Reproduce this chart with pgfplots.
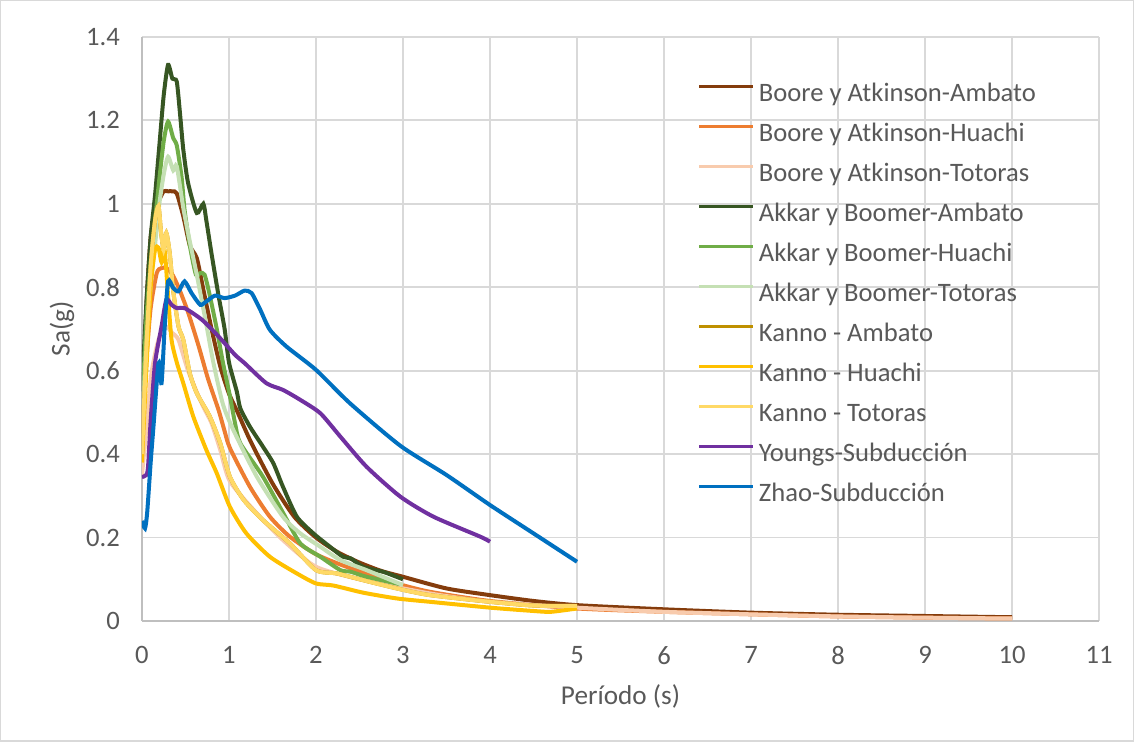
\documentclass[border=0pt]{standalone}
\usepackage{pgfplots}
\pgfplotsset{compat=1.18}
\usepackage{fontspec}
\setmainfont{Carlito}

\definecolor{txt}{HTML}{595959}
\definecolor{gridc}{HTML}{D9D9D9}
\definecolor{axc}{HTML}{BFBFBF}
\definecolor{baA}{HTML}{843C0C}
\definecolor{baH}{HTML}{ED7D31}
\definecolor{baT}{HTML}{F8CBAD}
\definecolor{abA}{HTML}{375623}
\definecolor{abH}{HTML}{70AD47}
\definecolor{abT}{HTML}{C5E0B4}
\definecolor{kaA}{HTML}{BF9000}
\definecolor{kaH}{HTML}{FFC000}
\definecolor{kaT}{HTML}{FFD966}
\definecolor{yoS}{HTML}{7030A0}
\definecolor{zhS}{HTML}{0070C0}

\begin{document}
\begin{tikzpicture}
% whole chart area, 1 px = 0.5pt
\draw[gridc, line width=0.75pt] (0.4pt,0.4pt) rectangle (566.6pt,370.6pt);

\begin{axis}[
    at={(71pt,60.5pt)}, anchor=south west,
    scale only axis,
    width=478.5pt, height=292pt,
    xmin=0, xmax=11, ymin=0, ymax=1.4,
    xtick={0,1,...,11},
    ytick={0,0.2,...,1.4},
    grid=major,
    major grid style={gridc, line width=0.9pt},
    axis x line*=bottom, axis y line*=left,
    axis line style={axc, line width=0.9pt},
    major tick length=0pt,
    /pgf/number format/assume math mode=true,
    /pgf/number format/fixed,
    ticklabel style={font=\fontsize{13.3}{15}\selectfont, text=txt},
    xticklabel style={yshift=-9pt},
    yticklabel style={xshift=-7.5pt},
    xlabel={Período (s)},
    ylabel={Sa(g)},
    label style={font=\fontsize{13.6}{16}\selectfont, text=txt},
    xlabel style={at={(axis description cs:0.5,-0.13)}, anchor=center},
    ylabel style={at={(axis description cs:-0.0836,0.5)}, anchor=center},
    every axis plot/.append style={line width=2pt, smooth, tension=0.4},
    legend cell align=left,
    legend image code/.code={\draw[#1, line width=1.75pt] (0pt,4.3pt) -- (27pt,4.3pt);},
    legend style={at={(axis description cs:0.58,0.926)}, anchor=north west,
        draw=none, fill=none, inner sep=0pt, font=\fontsize{13.3}{15}\selectfont, text=txt,
        nodes={inner sep=0pt, text height=10.5pt, text depth=4pt},
        row sep=5.5pt, column sep=2pt},
]

\addplot[baA] coordinates {
(0,0.45)(0.05,0.75)(0.1,0.92)(0.15,0.98)(0.2,1.01)(0.25,1.03)(0.3,1.03)(0.35,1.03)(0.4,1.025)
(0.475,0.97)(0.55,0.90)(0.63,0.87)(0.7,0.80)(0.8,0.70)(0.9,0.61)(1.0,0.545)(1.1,0.50)(1.25,0.43)
(1.5,0.33)(1.75,0.25)(2.0,0.20)(2.25,0.165)(2.5,0.14)(2.75,0.12)(3.0,0.106)(3.5,0.078)(4,0.062)
(4.5,0.048)(5,0.038)(6,0.028)(7,0.02)(8,0.015)(9,0.012)(10,0.009)};
\addlegendentry{Boore y Atkinson-Ambato}

\addplot[baH] coordinates {
(0,0.42)(0.05,0.62)(0.1,0.75)(0.17,0.834)(0.225,0.846)(0.28,0.846)(0.34,0.834)(0.42,0.80)
(0.53,0.74)(0.65,0.66)(0.76,0.58)(0.88,0.506)(0.95,0.455)(1.01,0.415)(1.24,0.322)(1.47,0.25)
(1.7,0.202)(2.0,0.16)(2.35,0.13)(2.93,0.09)(3.31,0.07)(4,0.048)(5,0.03)(6,0.022)(7,0.016)
(8,0.011)(9,0.008)(10,0.006)};
\addlegendentry{Boore y Atkinson-Huachi}

\addplot[baT] coordinates {
(0,0.35)(0.05,0.46)(0.1,0.58)(0.15,0.64)(0.2,0.68)(0.28,0.705)(0.35,0.69)(0.42,0.674)(0.53,0.60)
(0.69,0.52)(0.8,0.474)(0.9,0.41)(1.01,0.335)(1.32,0.258)(1.62,0.194)(2.0,0.13)(2.54,0.098)
(3.31,0.066)(4,0.046)(5,0.032)(6,0.022)(7,0.016)(8,0.011)(9,0.008)(10,0.006)};
\addlegendentry{Boore y Atkinson-Totoras}

\addplot[abA] coordinates {
(0,0.55)(0.05,0.76)(0.1,0.92)(0.15,1.02)(0.2,1.14)(0.25,1.26)(0.3,1.333)(0.35,1.30)(0.4,1.293)
(0.44,1.21)(0.475,1.13)(0.53,1.05)(0.63,0.978)(0.705,1.0)(0.74,0.96)(0.8,0.88)(0.88,0.78)
(0.95,0.70)(1.0,0.62)(1.09,0.55)(1.13,0.51)(1.24,0.466)(1.39,0.418)(1.51,0.378)(1.62,0.322)
(1.78,0.25)(1.97,0.21)(2.16,0.178)(2.31,0.154)(2.4,0.15)(2.54,0.13)(2.77,0.118)(2.85,0.112)(3.0,0.10)};
\addlegendentry{Akkar y Boomer-Ambato}

\addplot[abH] coordinates {
(0,0.5)(0.05,0.72)(0.1,0.86)(0.15,0.96)(0.2,1.06)(0.25,1.15)(0.3,1.197)(0.36,1.157)(0.4,1.14)
(0.455,1.065)(0.49,0.985)(0.55,0.90)(0.62,0.83)(0.67,0.834)(0.72,0.83)(0.78,0.78)(0.86,0.70)
(0.93,0.62)(1.01,0.54)(1.07,0.474)(1.13,0.426)(1.39,0.346)(1.62,0.26)(1.82,0.186)(2.05,0.154)
(2.28,0.122)(2.4,0.118)(2.58,0.106)(2.97,0.088)};
\addlegendentry{Akkar y Boomer-Huachi}

\addplot[abT] coordinates {
(0,0.45)(0.05,0.66)(0.1,0.8)(0.15,0.9)(0.2,1.0)(0.25,1.07)(0.3,1.113)(0.36,1.08)(0.4,1.09)
(0.475,0.99)(0.55,0.91)(0.63,0.83)(0.74,0.71)(0.82,0.62)(0.93,0.52)(1.05,0.458)(1.32,0.346)
(1.62,0.25)(1.82,0.21)(2.05,0.178)(2.28,0.146)(2.58,0.122)(3.0,0.086)};
\addlegendentry{Akkar y Boomer-Totoras}

\addplot[kaA] coordinates {
(0,0.40)(0.05,0.65)(0.1,0.85)(0.15,0.96)(0.19,0.995)(0.22,0.93)(0.25,0.89)(0.28,0.93)(0.32,0.88)
(0.36,0.79)(0.42,0.706)(0.475,0.674)(0.55,0.594)(0.63,0.546)(0.78,0.49)(0.9,0.426)(1.01,0.346)
(1.17,0.29)(1.39,0.242)(1.7,0.186)(2.0,0.122)(2.24,0.114)(2.54,0.098)(2.93,0.078)(3.31,0.062)
(4,0.046)(4.5,0.037)(5,0.036)};
\addlegendentry{Kanno - Ambato}

\addplot[kaH] coordinates {
(0,0.38)(0.05,0.6)(0.1,0.8)(0.15,0.89)(0.19,0.895)(0.225,0.86)(0.26,0.89)(0.3,0.78)(0.34,0.674)
(0.4,0.62)(0.475,0.57)(0.59,0.49)(0.74,0.41)(0.86,0.354)(1.01,0.274)(1.2,0.21)(1.47,0.154)
(1.78,0.114)(2.0,0.09)(2.2,0.085)(2.54,0.068)(2.93,0.054)(3.31,0.046)(4,0.032)(4.5,0.024)
(4.7,0.022)(5,0.03)};
\addlegendentry{Kanno - Huachi}

\addplot[kaT] coordinates {
(0,0.40)(0.05,0.65)(0.1,0.85)(0.15,0.96)(0.19,0.995)(0.22,0.93)(0.25,0.89)(0.28,0.93)(0.32,0.88)
(0.36,0.79)(0.42,0.706)(0.475,0.674)(0.55,0.594)(0.63,0.546)(0.78,0.49)(0.9,0.426)(1.01,0.346)
(1.17,0.29)(1.39,0.242)(1.7,0.186)(2.0,0.122)(2.24,0.114)(2.54,0.098)(2.93,0.078)(3.31,0.062)
(4,0.046)(4.5,0.037)(5,0.036)};
\addlegendentry{Kanno - Totoras}

\addplot[yoS] coordinates {
(0,0.345)(0.05,0.35)(0.07,0.37)(0.1,0.48)(0.15,0.618)(0.225,0.706)(0.28,0.77)(0.34,0.758)
(0.4,0.75)(0.49,0.75)(0.69,0.722)(0.88,0.682)(1.07,0.638)(1.18,0.618)(1.43,0.57)(1.62,0.554)
(1.82,0.53)(2.05,0.498)(2.28,0.442)(2.58,0.37)(2.97,0.298)(3.35,0.25)(3.89,0.202)(4.0,0.19)};
\addlegendentry{Youngs-Subducción}

\addplot[zhS] coordinates {
(0,0.24)(0.035,0.222)(0.06,0.26)(0.1,0.38)(0.13,0.46)(0.19,0.618)(0.225,0.57)(0.26,0.70)
(0.3,0.814)(0.36,0.798)(0.42,0.79)(0.49,0.814)(0.57,0.786)(0.67,0.758)(0.74,0.766)(0.84,0.78)
(0.95,0.774)(1.07,0.78)(1.18,0.792)(1.26,0.786)(1.36,0.746)(1.47,0.698)(1.66,0.658)(2.0,0.602)
(2.39,0.522)(2.97,0.42)(3.5,0.35)(4.0,0.278)(4.5,0.21)(5.0,0.142)};
\addlegendentry{Zhao-Subducción}

\end{axis}
\end{tikzpicture}
\end{document}
